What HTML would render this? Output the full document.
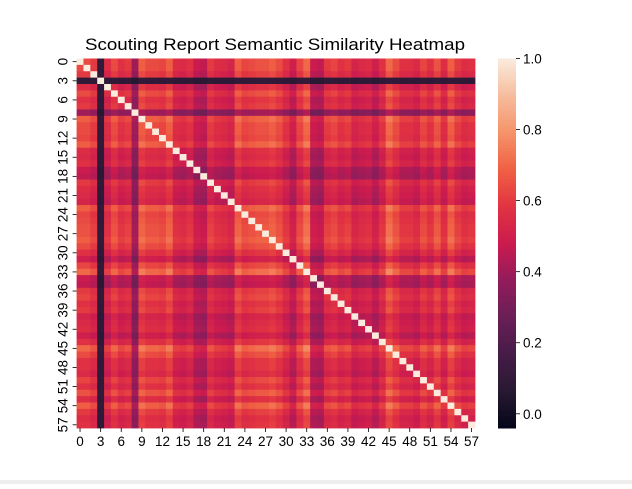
<!DOCTYPE html>
<html><head><meta charset="utf-8"><style>
body{margin:0;background:#fff;width:632px;height:484px;overflow:hidden}
svg text{font-family:"Liberation Sans",sans-serif;fill:#000}
</style></head><body>
<svg id="chart" width="632" height="484" xmlns="http://www.w3.org/2000/svg">
<rect x="0" y="0" width="632" height="484" fill="#fff"/>
<rect x="0" y="480" width="632" height="4" fill="#eeeeee"/>
<text x="275" y="50" font-size="17" text-anchor="middle" textLength="380" lengthAdjust="spacingAndGlyphs">Scouting Report Semantic Similarity Heatmap</text>
<g id="cells"></g>
<g id="axes"></g>
<g id="cbar"></g>
</svg>
<script>
// Estimated per-report similarity levels (row/column profile)
const items = Array.from({length:58},(_,i)=>i);
const levels = [0.8,0.8,0.75,0.12,0.7,0.8,0.72,0.75,0.5,0.85,0.8,0.8,0.78,0.85,0.7,0.68,0.72,0.6,0.58,0.75,0.7,0.68,0.65,0.85,0.78,0.8,0.82,0.82,0.85,0.8,0.72,0.62,0.78,0.88,0.6,0.58,0.75,0.78,0.72,0.75,0.65,0.68,0.7,0.62,0.72,0.88,0.8,0.72,0.72,0.68,0.78,0.72,0.82,0.7,0.85,0.75,0.7,0.72];
const cbarTicks = [0.0,0.2,0.4,0.6,0.8,1.0];
const vmin = -0.04, vmax = 1.0;

const NS="http://www.w3.org/2000/svg";
const X0=76.6, Y0=58.5, W=398.4, H=369.5, n=items.length;
const cw=W/n, ch=H/n;
const xs=i=>X0+i*cw, ys=i=>Y0+i*ch;
const stops=[[0,[3,5,26]],[0.1,[40,25,50]],[0.2,[69,28,71]],[0.3,[105,31,85]],[0.4,[146,28,91]],[0.5,[203,27,79]],[0.6,[225,51,66]],[0.7,[240,96,67]],[0.8,[245,147,106]],[0.9,[246,188,157]],[1,[250,235,221]]];
function cmap(v){let t=(v-vmin)/(vmax-vmin);t=Math.max(0,Math.min(1,t));
 for(let k=1;k<stops.length;k++){if(t<=stops[k][0]){const a=stops[k-1],b=stops[k],f=(t-a[0])/(b[0]-a[0]);
 return 'rgb('+a[1].map((c,q)=>Math.round(c+(b[1][q]-c)*f)).join(',')+')';}}return 'rgb(250,235,221)';}
function mk(tag,at,parent){const e=document.createElementNS(NS,tag);for(const k in at)e.setAttribute(k,at[k]);parent.appendChild(e);return e;}
const cg=document.getElementById('cells');
for(let i=0;i<n;i++)for(let j=0;j<n;j++){
 const v=i===j?1:levels[i]*levels[j];
 const r=mk('rect',{x:xs(j),y:ys(i),width:cw+0.4,height:ch+0.4,fill:cmap(v)},cg);
 
 
}
const ag=document.getElementById('axes');
for(let i=0;i<n;i+=3){
 const cx=xs(i)+cw/2, cy=ys(i)+ch/2;
 const t1=mk('line',{x1:cx,y1:Y0+H,x2:cx,y2:Y0+H+4,stroke:'#000','stroke-width':0.8},ag);
 
 
 const l1=mk('text',{x:cx,y:Y0+H+18,'font-size':13.5,'text-anchor':'middle'},ag);l1.textContent=items[i];
 
 
 const t2=mk('line',{x1:X0-4,y1:cy,x2:X0,y2:cy,stroke:'#000','stroke-width':0.8},ag);
 
 
 const l2=mk('text',{x:0,y:0,'font-size':13.5,'text-anchor':'middle',transform:`translate(${X0-9},${cy}) rotate(-90)`},ag);l2.textContent=items[i];
 
 
}
const bg=document.getElementById('cbar');
const CX=498, CW=18, CT=58.5, CB=428;
const cy=v=>CB-(v-vmin)/(vmax-vmin)*(CB-CT);
const steps=120;
for(let k=0;k<steps;k++){const v0=vmin+(vmax-vmin)*k/steps, v1=vmin+(vmax-vmin)*(k+1)/steps;
 const r=mk('rect',{x:CX,y:cy(v1),width:CW,height:cy(v0)-cy(v1)+0.5,fill:cmap((v0+v1)/2)},bg);
 
 
}
cbarTicks.forEach(v=>{
 const t=mk('line',{x1:CX+CW,y1:cy(v),x2:CX+CW+4,y2:cy(v),stroke:'#000','stroke-width':0.8},bg);
 
 
 const l=mk('text',{x:CX+CW+7,y:cy(v)+5,'font-size':13.5},bg);l.textContent=v.toFixed(1);
 
 
});
</script>
</body></html>
